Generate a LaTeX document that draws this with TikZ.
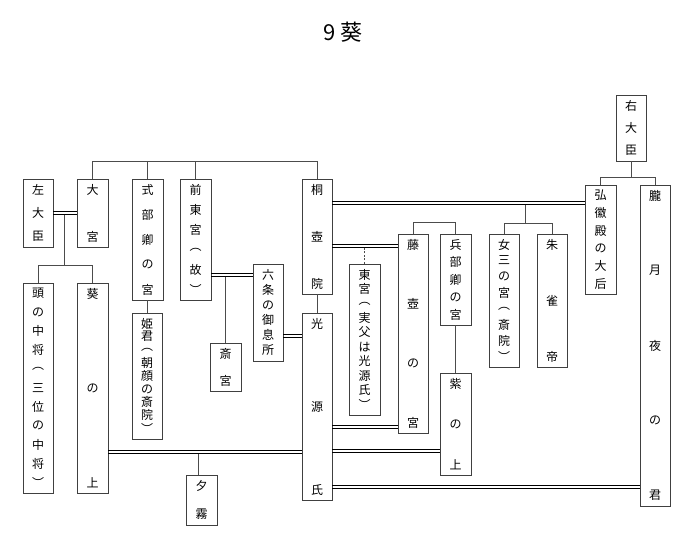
\documentclass[tikz,border=0pt]{standalone}
\usepackage{fontspec}
\newfontfamily\jp{Noto Sans CJK JP}
\tikzset{
 box/.style={draw=black!75,line width=0.8pt,inner sep=0pt},
 ch/.style={font=\jp\fontsize{12}{13}\selectfont,inner sep=0pt},
 ln/.style={draw=black!70,line width=0.8pt},
 dbl/.style={draw=black,line width=0.9pt},
}
\newcommand\vbx[6]{%
 \node[box,minimum width={(#4-#2)*1pt},minimum height={(#5-#3)*1pt}] (#1) at ({(#2+#4)/2},{(#3+#5)/2}) {};
 \foreach \c [count=\i] in {#6} {\xdef\nn{\i}}
 \foreach \c [count=\i] in {#6}
  \node[ch] at ({(#2+#4)/2},{#3+10.5+(\i-1)*(#5-#3-21)/(\nn-1)}) {\c};
}
\newcommand\dl[3]{%
 \draw[dbl] ([yshift=-1.5pt]#1.east |- 0,#3) -- ([yshift=-1.5pt]#2.west |- 0,#3);
 \draw[dbl] ([yshift=1.5pt]#1.east |- 0,#3) -- ([yshift=1.5pt]#2.west |- 0,#3);
}
\begin{document}
\begin{tikzpicture}[x=1pt,y=-1pt]
\useasboundingbox[fill=white] (0,0) rectangle (698,537);
\node[font=\jp\fontsize{22}{24}\selectfont] (title) at (343,32) {9 葵};
\vbx{sadaijin}{23}{179}{53}{247}{左,大,臣}
\vbx{omiya}{77}{179}{108}{247}{大,宮}
\vbx{shikibu}{132}{179}{163}{300}{式,部,卿,の,宮}
\vbx{zento}{180}{179}{211}{300}{前,東,宮,︵,故,︶}
\vbx{kiritsubo}{302}{179}{332}{294}{桐,壺,院}
\vbx{tonochujo}{23}{283}{53}{493}{頭,の,中,将,︵,三,位,の,中,将,︶}
\vbx{aoi}{77}{283}{108}{493}{葵,の,上}
\vbx{himegimi}{132}{313}{162}{439}{姫,君,︵,朝,顔,の,斎,院,︶}
\vbx{saigu}{210}{343}{241}{391}{斎,宮}
\vbx{rokujo}{253}{264}{283}{361}{六,条,の,御,息,所}
\vbx{genji}{302}{313}{332}{500}{光,源,氏}
\vbx{yugiri}{186}{475}{217}{525}{夕,霧}
\vbx{udaijin}{616}{95}{646}{161}{右,大,臣}
\vbx{kokiden}{585}{185}{616}{294}{弘,徽,殿,の,大,后}
\vbx{oborozuki}{640}{185}{670}{506}{朧,月,夜,の,君}
\vbx{onnasan}{489}{234}{519}{367}{女,三,の,宮,︵,斎,院,︶}
\vbx{suzaku}{537}{234}{567}{367}{朱,雀,帝}
\vbx{fujitsubo}{398}{234}{428}{433}{藤,壺,の,宮}
\vbx{hyobu}{440}{234}{471}{325}{兵,部,卿,の,宮}
\vbx{murasaki}{440}{373}{471}{475}{紫,の,上}
\vbx{togu}{349}{264}{380}{415}{東,宮,︵,実,父,は,光,源,氏,︶}
% single lines
\draw[ln] (omiya.north) -- (omiya.north |- 0,161) -- (kiritsubo.north |- 0,161) -- (kiritsubo.north);
\draw[ln] (shikibu.north) -- (shikibu.north |- 0,161);
\draw[ln] (zento.north) -- (zento.north |- 0,161);
\draw[ln] (tonochujo.north) -- (tonochujo.north |- 0,265) -- (aoi.north |- 0,265) -- (aoi.north);
\draw[ln] (64,214.5) coordinate (c1) -- (c1 |- 0,265);
\draw[ln] (shikibu.south -| 147,0) -- (himegimi.north -| 147,0);
\draw[ln] (225,276.5) coordinate (c2) -- (c2 |- saigu.north);
\draw[ln] (kiritsubo.south) -- (genji.north);
\draw[ln] (198,453.5) coordinate (c3) -- (c3 |- yugiri.north);
\draw[ln] (udaijin.south) -- (udaijin.south |- 0,177) coordinate (c4);
\draw[ln] (kokiden.north) -- (kokiden.north |- 0,177) -- (oborozuki.north |- 0,177) -- (oborozuki.north);
\draw[ln] (525,204.5) coordinate (c5) -- (525,223);
\draw[ln] (onnasan.north) -- (onnasan.north |- 0,223) -- (suzaku.north |- 0,223) -- (suzaku.north);
\draw[ln] (fujitsubo.north) -- (fujitsubo.north |- 0,222) -- (hyobu.north |- 0,222) -- (hyobu.north);
\draw[ln] (hyobu.south) -- (murasaki.north);
\draw[ln,dash pattern=on 2pt off 1.5pt] (togu.north) -- (togu.north |- 0,247.5);
% double lines
\dl{sadaijin}{omiya}{213}
\dl{zento}{rokujo}{275}
\dl{rokujo}{genji}{336}
\dl{aoi}{genji}{452}
\dl{kiritsubo}{kokiden}{203}
\dl{kiritsubo}{fujitsubo}{246}
\dl{genji}{fujitsubo}{427}
\dl{genji}{murasaki}{451}
\dl{genji}{oborozuki}{487}
\end{tikzpicture}
\end{document}
